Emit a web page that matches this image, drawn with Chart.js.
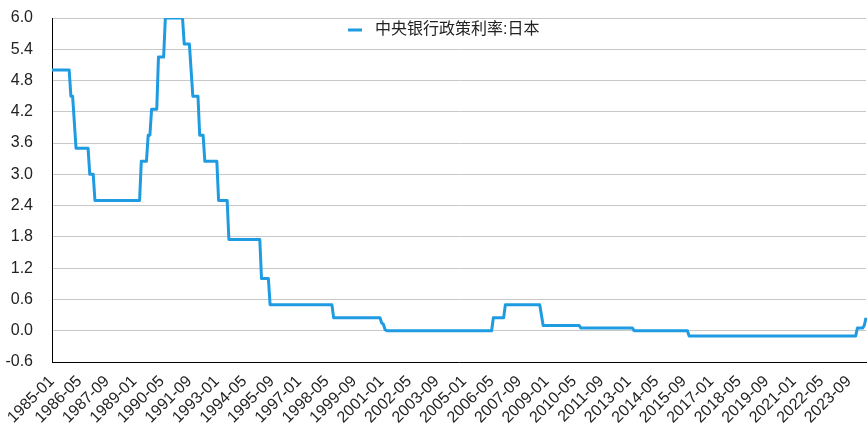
<!DOCTYPE html>
<html>
<head>
<meta charset="utf-8">
<script src="https://cdn.jsdelivr.net/npm/chart.js@4.4.1/dist/chart.umd.min.js"></script>
<style>
    body { margin: 0; background: #fff; }
    #wrap { width: 868px; height: 428px; }
</style>
</head>
<body>
<div id="wrap"><canvas id="rateChart"></canvas></div>
<script>
var seriesName = '中央银行政策利率:日本';
var lineColor = '#1f9be1';
var fontFamily = "'Liberation Sans', 'Noto Sans CJK SC', sans-serif";

// labels shown on the x axis (every 16 months)
var tickLabels = ['1985-01', '1986-05', '1987-09', '1989-01', '1990-05', '1991-09', '1993-01', '1994-05',
    '1995-09', '1997-01', '1998-05', '1999-09', '2001-01', '2002-05', '2003-09', '2005-01', '2006-05',
    '2007-09', '2009-01', '2010-05', '2011-09', '2013-01', '2014-05', '2015-09', '2017-01', '2018-05',
    '2019-09', '2021-01', '2022-05', '2023-09'];

var startYear = 1985;

// monthly values, one row per year (1985-01 .. 2024-07)
var rates = [
    5, 5, 5, 5, 5, 5, 5, 5, 5, 5, 5, 4.5,
    4.5, 4, 3.5, 3.5, 3.5, 3.5, 3.5, 3.5, 3.5, 3.5, 3, 3,
    3, 2.5, 2.5, 2.5, 2.5, 2.5, 2.5, 2.5, 2.5, 2.5, 2.5, 2.5,
    2.5, 2.5, 2.5, 2.5, 2.5, 2.5, 2.5, 2.5, 2.5, 2.5, 2.5, 2.5,
    2.5, 2.5, 2.5, 2.5, 3.25, 3.25, 3.25, 3.25, 3.75, 3.75, 4.25, 4.25,
    4.25, 4.25, 5.25, 5.25, 5.25, 5.25, 6, 6, 6, 6, 6, 6,
    6, 6, 6, 6, 6, 5.5, 5.5, 5.5, 5.5, 5, 4.5, 4.5,
    4.5, 4.5, 3.75, 3.75, 3.75, 3.25, 3.25, 3.25, 3.25, 3.25, 3.25, 3.25,
    3.25, 2.5, 2.5, 2.5, 2.5, 2.5, 2.5, 1.75, 1.75, 1.75, 1.75, 1.75,
    1.75, 1.75, 1.75, 1.75, 1.75, 1.75, 1.75, 1.75, 1.75, 1.75, 1.75, 1.75,
    1.75, 1.75, 1, 1, 1, 1, 1, 0.5, 0.5, 0.5, 0.5, 0.5,
    0.5, 0.5, 0.5, 0.5, 0.5, 0.5, 0.5, 0.5, 0.5, 0.5, 0.5, 0.5,
    0.5, 0.5, 0.5, 0.5, 0.5, 0.5, 0.5, 0.5, 0.5, 0.5, 0.5, 0.5,
    0.5, 0.5, 0.5, 0.5, 0.5, 0.5, 0.5, 0.5, 0.25, 0.25, 0.25, 0.25,
    0.25, 0.25, 0.25, 0.25, 0.25, 0.25, 0.25, 0.25, 0.25, 0.25, 0.25, 0.25,
    0.25, 0.25, 0.25, 0.25, 0.25, 0.25, 0.25, 0.25, 0.25, 0.25, 0.25, 0.25,
    0.15, 0.12, 0.02, 0, 0, 0, 0, 0, 0, 0, 0, 0,
    0, 0, 0, 0, 0, 0, 0, 0, 0, 0, 0, 0,
    0, 0, 0, 0, 0, 0, 0, 0, 0, 0, 0, 0,
    0, 0, 0, 0, 0, 0, 0, 0, 0, 0, 0, 0,
    0, 0, 0, 0, 0, 0, 0, 0, 0, 0, 0, 0,
    0, 0, 0, 0, 0, 0.25, 0.25, 0.25, 0.25, 0.25, 0.25, 0.25,
    0.5, 0.5, 0.5, 0.5, 0.5, 0.5, 0.5, 0.5, 0.5, 0.5, 0.5, 0.5,
    0.5, 0.5, 0.5, 0.5, 0.5, 0.5, 0.5, 0.5, 0.5, 0.3, 0.1, 0.1,
    0.1, 0.1, 0.1, 0.1, 0.1, 0.1, 0.1, 0.1, 0.1, 0.1, 0.1, 0.1,
    0.1, 0.1, 0.1, 0.1, 0.1, 0.1, 0.1, 0.1, 0.05, 0.05, 0.05, 0.05,
    0.05, 0.05, 0.05, 0.05, 0.05, 0.05, 0.05, 0.05, 0.05, 0.05, 0.05, 0.05,
    0.05, 0.05, 0.05, 0.05, 0.05, 0.05, 0.05, 0.05, 0.05, 0.05, 0.05, 0.05,
    0.05, 0.05, 0.05, 0, 0, 0, 0, 0, 0, 0, 0, 0,
    0, 0, 0, 0, 0, 0, 0, 0, 0, 0, 0, 0,
    0, 0, 0, 0, 0, 0, 0, 0, 0, 0, 0, -0.1,
    -0.1, -0.1, -0.1, -0.1, -0.1, -0.1, -0.1, -0.1, -0.1, -0.1, -0.1, -0.1,
    -0.1, -0.1, -0.1, -0.1, -0.1, -0.1, -0.1, -0.1, -0.1, -0.1, -0.1, -0.1,
    -0.1, -0.1, -0.1, -0.1, -0.1, -0.1, -0.1, -0.1, -0.1, -0.1, -0.1, -0.1,
    -0.1, -0.1, -0.1, -0.1, -0.1, -0.1, -0.1, -0.1, -0.1, -0.1, -0.1, -0.1,
    -0.1, -0.1, -0.1, -0.1, -0.1, -0.1, -0.1, -0.1, -0.1, -0.1, -0.1, -0.1,
    -0.1, -0.1, -0.1, -0.1, -0.1, -0.1, -0.1, -0.1, -0.1, -0.1, -0.1, -0.1,
    -0.1, -0.1, -0.1, -0.1, -0.1, -0.1, -0.1, -0.1, -0.1, -0.1, -0.1, -0.1,
    -0.1, -0.1, -0.1, -0.1, -0.1, -0.1, -0.1, -0.1, -0.1, -0.1, -0.1, -0.1,
    -0.1, 0.05, 0.05, 0.05, 0.05, 0.1, 0.25
];

var months = [];
for (var i = 0; i < rates.length; i++) {
    var m = (i % 12) + 1;
    months.push((startYear + Math.floor(i / 12)) + '-' + (m < 10 ? '0' + m : m));
}

// legend drawn inside the plot, like the original
var insideLegend = {
    id: 'insideLegend',
    afterDraw: function (chart) {
        var ctx = chart.ctx;
        var x = 348;
        var y = 30;
        ctx.save();
        ctx.fillStyle = lineColor;
        ctx.fillRect(x, y - 1.5, 14, 3);
        ctx.font = '16px ' + fontFamily;
        ctx.fillStyle = '#222';
        ctx.textBaseline = 'middle';
        ctx.fillText(chart.data.datasets[0].label, x + 27, y);
        ctx.restore();
    }
};

var ctx = document.getElementById('rateChart').getContext('2d');
var myChart = new Chart(ctx, {
    type: 'line',
    data: {
        labels: months,
        datasets: [{
            label: seriesName,
            data: rates,
            borderColor: lineColor,
            backgroundColor: lineColor,
            borderWidth: 3,
            borderJoinStyle: 'round',
            pointRadius: 0,
            tension: 0,
            fill: false
        }]
    },
    options: {
        responsive: true,
        maintainAspectRatio: false,
        animation: false,
        layout: {
            padding: { top: 18, right: 2, left: 4, bottom: 0 }
        },
        plugins: {
            legend: { display: false },
            tooltip: { enabled: false }
        },
        scales: {
            x: {
                grid: { display: false, drawTicks: false },
                border: { display: true, color: '#000', width: 1 },
                afterFit: function (scale) {
                    scale.height = 66;
                    scale.paddingLeft = 0;
                    scale.paddingRight = 0;
                },
                ticks: {
                    autoSkip: false,
                    maxRotation: 45,
                    minRotation: 45,
                    padding: 10,
                    color: '#222',
                    font: { family: fontFamily, size: 16 },
                    callback: function (value, index) {
                        var lbl = months[index];
                        return tickLabels.indexOf(lbl) >= 0 ? lbl : null;
                    }
                }
            },
            y: {
                min: -0.6,
                max: 6.0,
                grid: { color: '#c8c8c8', lineWidth: 1, drawTicks: false },
                border: { display: true, color: '#000', width: 1 },
                afterFit: function (scale) {
                    scale.width = 48;
                    scale.paddingTop = 0;
                    scale.paddingBottom = 0;
                },
                ticks: {
                    stepSize: 0.6,
                    padding: 19,
                    color: '#222',
                    font: { family: fontFamily, size: 16 },
                    callback: function (value) {
                        return value.toFixed(1);
                    }
                }
            }
        }
    },
    plugins: [insideLegend]
});
</script>
</body>
</html>
